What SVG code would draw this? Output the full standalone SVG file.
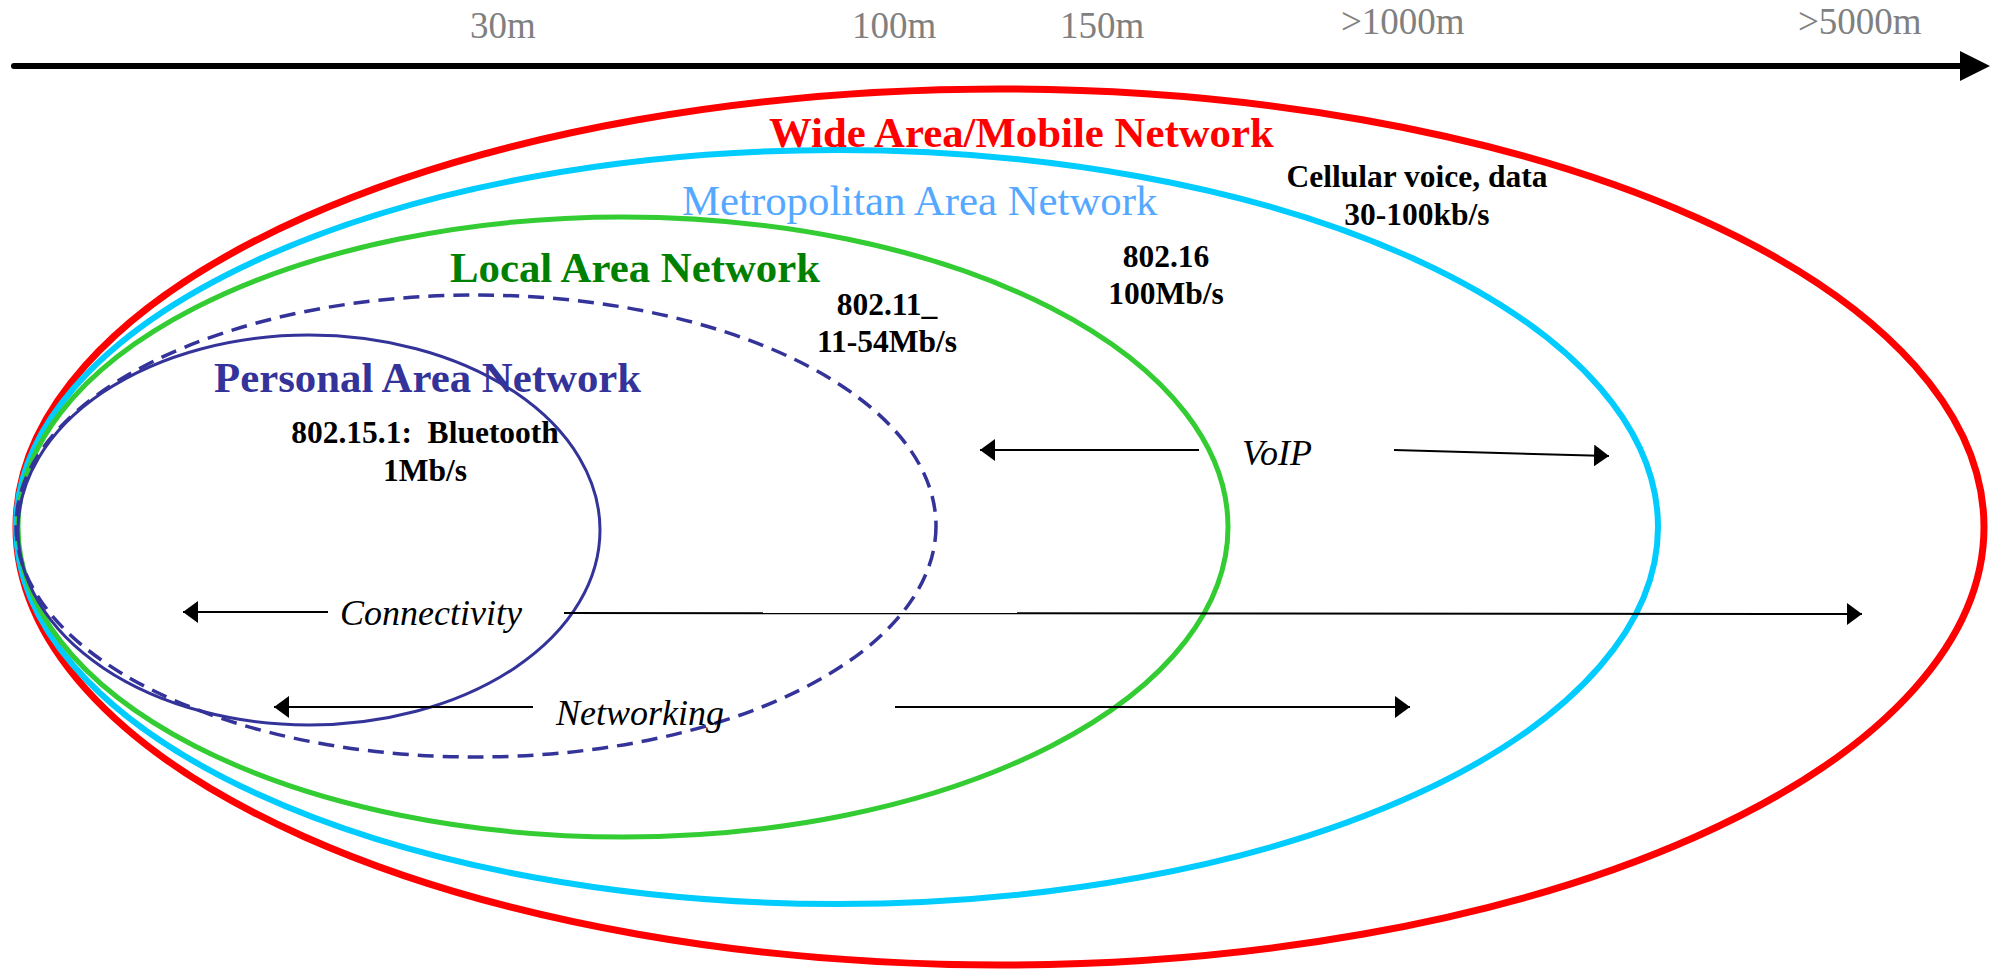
<svg xmlns="http://www.w3.org/2000/svg" width="1992" height="969" viewBox="0 0 1992 969">
<style>
.axis{font-family:"Liberation Serif",serif;font-size:37px;fill:#808080}
.title{font-family:"Liberation Serif",serif;font-size:42.8px;font-weight:bold}
.spec{font-family:"Liberation Serif",serif;font-size:31.5px;font-weight:bold;fill:#000;text-anchor:middle;white-space:pre}
.it{font-family:"Liberation Serif",serif;font-size:36px;font-style:italic;fill:#000}
.ln{stroke:#000;stroke-width:2;fill:none}
</style>
<defs>
<marker id="ah" markerWidth="16" markerHeight="22" refX="15" refY="11" orient="auto" markerUnits="userSpaceOnUse">
<path d="M0,0 L15,11 L0,22 Z" fill="#000"/>
</marker>
</defs>
<rect width="1992" height="969" fill="#fff"/>
<g id="axis">
<line x1="14" y1="66" x2="1962" y2="66" stroke="#000" stroke-width="6" stroke-linecap="round"/>
<path d="M1960,51 L1990,66 L1960,81 Z" fill="#000"/>
<text class="axis" x="470" y="38">30m</text>
<text class="axis" x="852" y="38">100m</text>
<text class="axis" x="1060" y="38">150m</text>
<text class="axis" x="1341" y="34">&gt;1000m</text>
<text class="axis" x="1798" y="34">&gt;5000m</text>
</g>
<g id="wan">
<ellipse cx="1000" cy="527" rx="984" ry="438" fill="none" stroke="#FF0000" stroke-width="7"/>
<text class="title" x="769" y="147" fill="#FF0000">Wide Area/Mobile Network</text>
<text class="spec" x="1417" y="187">Cellular voice, data</text>
<text class="spec" x="1417" y="225">30-100kb/s</text>
</g>
<g id="man">
<ellipse cx="837" cy="527" rx="821" ry="377" fill="none" stroke="#00CCFF" stroke-width="6"/>
<text class="title" x="682" y="215" fill="#55A8FF" style="font-weight:normal">Metropolitan Area Network</text>
<text class="spec" x="1166" y="267">802.16</text>
<text class="spec" x="1166" y="304">100Mb/s</text>
</g>
<g id="lan">
<ellipse cx="623" cy="527" rx="605" ry="310" fill="none" stroke="#33CC33" stroke-width="5"/>
<text class="title" x="450" y="282" fill="#008000">Local Area Network</text>
<text class="spec" x="887" y="315">802.11_</text>
<text class="spec" x="887" y="352">11-54Mb/s</text>
</g>
<g id="wlan-range">
<ellipse cx="476" cy="526" rx="460" ry="231" fill="none" stroke="#333399" stroke-width="3.5" stroke-dasharray="16 9"/>
</g>
<g id="pan">
<ellipse cx="309" cy="530" rx="291" ry="195" fill="none" stroke="#333399" stroke-width="3"/>
<text class="title" x="214" y="392" fill="#333399">Personal Area Network</text>
<text class="spec" x="425" y="443">802.15.1:  Bluetooth</text>
<text class="spec" x="425" y="481">1Mb/s</text>
</g>
<g id="connectors">
<line class="ln" x1="1199" y1="450" x2="980" y2="450" marker-end="url(#ah)"/>
<text class="it" x="1242" y="465">VoIP</text>
<line class="ln" x1="1394" y1="450" x2="1609" y2="456" marker-end="url(#ah)"/>
<line class="ln" x1="328" y1="612" x2="183" y2="612" marker-end="url(#ah)"/>
<text class="it" x="340" y="625">Connectivity</text>
<line class="ln" x1="564" y1="613" x2="1862" y2="614" marker-end="url(#ah)"/>
<line class="ln" x1="533" y1="707" x2="274" y2="707" marker-end="url(#ah)"/>
<text class="it" x="556" y="725">Networking</text>
<line class="ln" x1="895" y1="707" x2="1410" y2="707" marker-end="url(#ah)"/>
</g>
</svg>
